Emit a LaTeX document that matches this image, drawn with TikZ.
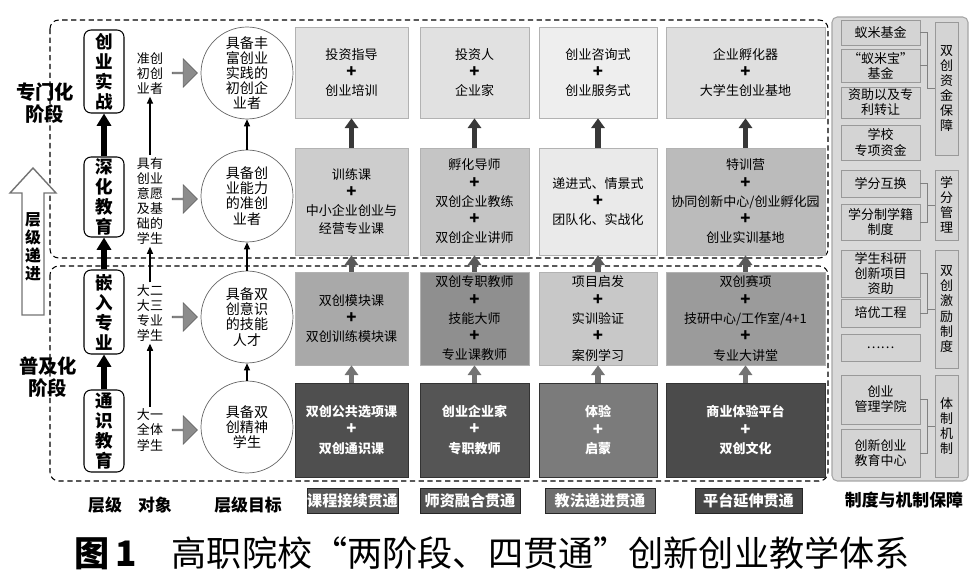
\documentclass[tikz,border=0pt]{standalone}
\usepackage{fontspec}
\setmainfont{Noto Sans CJK SC}
\usetikzlibrary{arrows.meta,shapes.arrows}
% grey levels of the grid
\definecolor{cellAa}{HTML}{E3E3E3}
\definecolor{cellAb}{HTML}{E1E1E1}
\definecolor{cellAc}{HTML}{EEEEEE}
\definecolor{cellAd}{HTML}{DFDFDF}
\definecolor{cellBa}{HTML}{CDCDCD}
\definecolor{cellBb}{HTML}{C5C5C5}
\definecolor{cellBc}{HTML}{EAEAEA}
\definecolor{cellBd}{HTML}{BBBBBB}
\definecolor{cellCa}{HTML}{A9A9A9}
\definecolor{cellCb}{HTML}{8F8F8F}
\definecolor{cellCc}{HTML}{C8C8C8}
\definecolor{cellCd}{HTML}{9B9B9B}
\definecolor{cellDa}{HTML}{4F4F4F}
\definecolor{cellDb}{HTML}{555555}
\definecolor{cellDc}{HTML}{7B7B7B}
\definecolor{cellDd}{HTML}{4B4B4B}
\tikzset{
  stagetext/.style={font=\fontsize{11}{12.5}\selectfont\bfseries, align=center},
  climb/.style={draw=black!55, fill=white, line width=0.8pt, line join=miter},
  climbtext/.style={font=\fontsize{9}{10.2}\selectfont\bfseries, align=center},
  lvl/.style={draw, rounded corners=4pt, line width=0.6pt, minimum width=0.8cm,
    inner sep=0pt, font=\fontsize{10}{11.4}\selectfont\bfseries, align=center},
  bigup/.style={line width=3pt, -{Triangle[width=8pt,length=7pt]}},
  obj/.style={font=\fontsize{7.4}{8.6}\selectfont, align=center, inner sep=1pt},
  thinup/.style={line width=0.6pt, -{Triangle[width=3.5pt,length=4pt]}},
  push/.style={single arrow, draw=black!60, fill=black!45, minimum height=0.5cm,
    minimum width=0.56cm, single arrow head extend=0.14cm, inner sep=0pt},
  goal/.style={circle, draw=black!60, minimum size=1.84cm, inner sep=0pt,
    font=\fontsize{8}{8.6}\selectfont, align=center},
  cell/.style={draw=black!30, inner sep=0pt, font=\fontsize{7.4}{10.4}\selectfont,
    align=center},
  dark/.style={draw=black!80, text=white, font=\fontsize{7.4}{10.4}\selectfont\bfseries},
  gridup/.style={line width=3.2pt, -{Triangle[width=7.5pt,length=5.5pt]}},
  frame/.style={dashed, dash pattern=on 3pt off 2pt, line width=0.6pt,
    rounded corners=5pt},
  tag/.style={draw=black!85, text=white, inner sep=0pt, minimum height=0.5cm,
    font=\fontsize{8.6}{9}\selectfont\bfseries},
  foot/.style={font=\fontsize{9.6}{10}\selectfont\bfseries},
  panel/.style={draw=black!35, fill=black!15, rounded corners=3pt, line width=0.6pt},
  fund/.style={draw=black!40, fill=black!17, minimum width=1.58cm, inner sep=0pt,
    font=\fontsize{7.4}{8.6}\selectfont, align=center},
  sort/.style={draw=black!40, fill=black!17, minimum width=0.46cm, inner sep=0pt,
    font=\fontsize{7.4}{8.6}\selectfont, align=center},
  link/.style={draw=black!50, line width=0.5pt}
}
\newcommand{\plus}{{\fontsize{9.5}{10.4}\selectfont\bfseries +}}
\begin{document}
\begin{tikzpicture}[x=0.02cm,y=-0.02cm]
    \useasboundingbox (0,0) rectangle (975,584);
    % two stages
    \draw[frame] (50,20) rectangle (828,258);
    \draw[frame] (50,266) rectangle (828,481);
    \node[stagetext] (special) at (45,103) {专门化\\阶段};
    \node[stagetext] (popular) at (48,377) {普及化\\阶段};
    % level climb
    \draw[climb] (22,315) -- (22,193) -- (10,193) -- (33,168) -- (56,193)
      -- (44,193) -- (44,315) -- cycle;
    \node[climbtext] (climbtext) at (33,247) {层\\级\\递\\进};
    % levels
    \node[lvl, minimum height=1.66cm] (practice) at (104,71.5) {创\\业\\实\\战};
    \node[lvl, minimum height=1.60cm] (deepen) at (104,197) {深\\化\\教\\育};
    \node[lvl, minimum height=1.68cm] (embed) at (104,312) {嵌\\入\\专\\业};
    \node[lvl, minimum height=1.64cm] (general) at (104,431) {通\\识\\教\\育};
    \draw[bigup] (general.north) -- (embed.south);
    \draw[bigup] (embed.north) -- (deepen.south);
    \draw[bigup] (deepen.north) -- (practice.south);
    % target groups
    \node[obj] (objA) at (150,73.5) {准创\\初创\\业者};
    \node[obj] (objB) at (150,201) {具有\\创业\\意愿\\及基\\础的\\学生};
    \node[obj] (objC) at (150,313) {大二\\大三\\专业\\学生};
    \node[obj] (objD) at (150,430) {大一\\全体\\学生};
    \draw[thinup] (objD.north) -- (objC.south);
    \draw[thinup] (objC.north) -- (objB.south);
    \draw[thinup] (objB.north) -- (objA.south);
    % push arrows
    \node[push] (pushA) at (184.5,73) {};
    \node[push] (pushB) at (184.5,199) {};
    \node[push] (pushC) at (184.5,317) {};
    \node[push] (pushD) at (184.5,430) {};
    % level goals
    \node[goal] (goalA) at (247,73) {具备丰\\富创业\\实践的\\初创企\\业者};
    \node[goal] (goalB) at (247,196) {具备创\\业能力\\的准创\\业者};
    \node[goal] (goalC) at (247,317) {具备双\\创意识\\的技能\\人才};
    \node[goal] (goalD) at (247,427) {具备双\\创精神\\学生};
    \draw[thinup] (goalD.north) -- (goalC.south);
    \draw[thinup] (goalC.north) -- (goalB.south);
    \draw[thinup] (goalB.north) -- (goalA.south);
    % row 1
    \node[cell, fill=cellAa, minimum width=2.26cm, minimum height=1.82cm] (invest) at (351.5,72.5) {投资指导\\\plus\\创业培训};
    \node[cell, fill=cellAb, minimum width=2.18cm, minimum height=1.82cm] (investor) at (474.5,72.5) {投资人\\\plus\\企业家};
    \node[cell, fill=cellAc, minimum width=2.36cm, minimum height=1.82cm] (consult) at (598,72.5) {创业咨询式\\\plus\\创业服务式};
    \node[cell, fill=cellAd, minimum width=3.18cm, minimum height=1.82cm] (incubator) at (745.5,72.5) {企业孵化器\\\plus\\大学生创业基地};
    % row 2
    \node[cell, fill=cellBa, minimum width=2.26cm, minimum height=2.14cm] (training) at (351.5,201.5) {训练课\\\plus\\中小企业创业与\\经营专业课};
    \node[cell, fill=cellBb, minimum width=2.18cm, minimum height=2.14cm] (mentor) at (474.5,201.5) {孵化导师\\\plus\\双创企业教练\\\plus\\双创企业讲师};
    \node[cell, fill=cellBc, minimum width=2.36cm, minimum height=2.14cm] (progress) at (598,201.5) {递进式、情景式\\\plus\\团队化、实战化};
    \node[cell, fill=cellBd, minimum width=3.18cm, minimum height=2.14cm] (camp) at (745.5,201.5) {特训营\\\plus\\协同创新中心/创业孵化园\\\plus\\创业实训基地};
    % row 3
    \node[cell, fill=cellCa, minimum width=2.26cm, minimum height=1.86cm] (module) at (351.5,318.5) {双创模块课\\\plus\\双创训练模块课};
    \node[cell, fill=cellCb, minimum width=2.18cm, minimum height=1.86cm] (fulltime) at (474.5,318.5) {双创专职教师\\\plus\\技能大师\\\plus\\专业课教师};
    \node[cell, fill=cellCc, minimum width=2.36cm, minimum height=1.86cm] (project) at (598,318.5) {项目启发\\\plus\\实训验证\\\plus\\案例学习};
    \node[cell, fill=cellCd, minimum width=3.18cm, minimum height=1.86cm] (contest) at (745.5,318.5) {双创赛项\\\plus\\技研中心/工作室/4+1\\\plus\\专业大讲堂};
    % row 4
    \node[cell, dark, fill=cellDa, minimum width=2.26cm, minimum height=1.88cm] (elective) at (351.5,430) {双创公共选项课\\\plus\\双创通识课};
    \node[cell, dark, fill=cellDb, minimum width=2.18cm, minimum height=1.88cm] (founder) at (474.5,430) {创业企业家\\\plus\\专职教师};
    \node[cell, dark, fill=cellDc, minimum width=2.36cm, minimum height=1.88cm] (experience) at (598,430) {体验\\\plus\\启蒙};
    \node[cell, dark, fill=cellDd, minimum width=3.18cm, minimum height=1.88cm] (business) at (745.5,430) {商业体验平台\\\plus\\双创文化};
    % arrows between rows
    \draw[gridup, black!55] (elective.north) -- (module.south);
    \draw[gridup, black!55] (founder.north) -- (fulltime.south);
    \draw[gridup, black!55] (experience.north) -- (project.south);
    \draw[gridup, black!55] (business.north) -- (contest.south);
    \draw[gridup, black!65] (module.north) -- (training.south);
    \draw[gridup, black!65] (fulltime.north) -- (mentor.south);
    \draw[gridup, black!65] (project.north) -- (progress.south);
    \draw[gridup, black!65] (contest.north) -- (camp.south);
    \draw[gridup, black!78] (training.north) -- (invest.south);
    \draw[gridup, black!78] (mentor.north) -- (investor.south);
    \draw[gridup, black!78] (progress.north) -- (consult.south);
    \draw[gridup, black!78] (camp.north) -- (incubator.south);
    % four links
    \node[tag, fill=black!65, minimum width=1.82cm] (course) at (352.5,500.5) {课程接续贯通};
    \node[tag, fill=black!68, minimum width=2.0cm] (teacher) at (470,500.5) {师资融合贯通};
    \node[tag, fill=black!57, minimum width=2.2cm] (method) at (600,500.5) {教法递进贯通};
    \node[tag, fill=black!72, minimum width=2.14cm] (platform) at (748.5,500.5) {平台延伸贯通};
    % column heads at the foot
    \node[foot] (footlvl) at (105,505) {层级};
    \node[foot] (footobj) at (155,505) {对象};
    \node[foot] (footgoal) at (248,505) {层级目标};
    \node[foot] (footsys) at (904,500) {制度与机制保障};
    % support panel
    \draw[panel] (832,17) rectangle (968,481);
    \node[fund, minimum height=0.5cm] (antfund) at (880.5,32.5) {蚁米基金};
    \node[fund, minimum height=0.66cm] (antbao) at (880.5,65.5) {“蚁米宝”\\基金};
    \node[fund, minimum height=0.62cm] (patent) at (880.5,102.5) {资助以及专\\利转让};
    \node[fund, minimum height=0.7cm] (school) at (880.5,142.5) {学校\\专项资金};
    \node[fund, minimum height=0.54cm] (swap) at (880.5,183.5) {学分互换};
    \node[fund, minimum height=0.72cm] (credit) at (880.5,222) {学分制学籍\\制度};
    \node[fund, minimum height=0.94cm] (research) at (880.5,273.5) {学生科研\\创新项目\\资助};
    \node[fund, minimum height=0.56cm] (elite) at (880.5,313) {培优工程};
    \node[fund, minimum height=0.54cm] (more) at (880.5,347.5) {……};
    \node[fund, minimum height=0.98cm] (college) at (880.5,399.5) {创业\\管理学院};
    \node[fund, minimum height=0.96cm] (centre) at (880.5,453) {创新创业\\教育中心};
    \node[sort, minimum height=2.66cm] (funding) at (946.5,88.5) {双\\创\\资\\金\\保\\障};
    \node[sort, minimum height=1.4cm] (credits) at (946.5,205) {学\\分\\管\\理};
    \node[sort, minimum height=2.36cm] (reward) at (946.5,309) {双\\创\\激\\励\\制\\度};
    \node[sort, minimum height=2.04cm] (system) at (946.5,426) {体\\制\\机\\制};
    % brackets
    \draw[link] (antfund.east) -- ++(7,0) |- (funding.west);
    \draw[link] (antbao.east) -- ++(7,0);
    \draw[link] (swap.east) -| ([xshift=0.14cm]credit.east) -- (credit.east);
    \draw[link] (credits.west) -- ++(-8,0);
    \draw[link] (research.east) -| ([xshift=0.14cm]elite.east) -- (elite.east);
    \draw[link] (reward.west) -- ++(-8,0);
    \draw[link] (college.east) -| ([xshift=0.14cm]centre.east) -- (centre.east);
    \draw[link] (system.west) -- ++(-8,0);
    % caption
    \node[font=\fontsize{20}{21}\selectfont] (caption) at (492,553) {\textbf{图\,1}\quad 高职院校“两阶段、四贯通”创新创业教学体系};
\end{tikzpicture}
\end{document}
